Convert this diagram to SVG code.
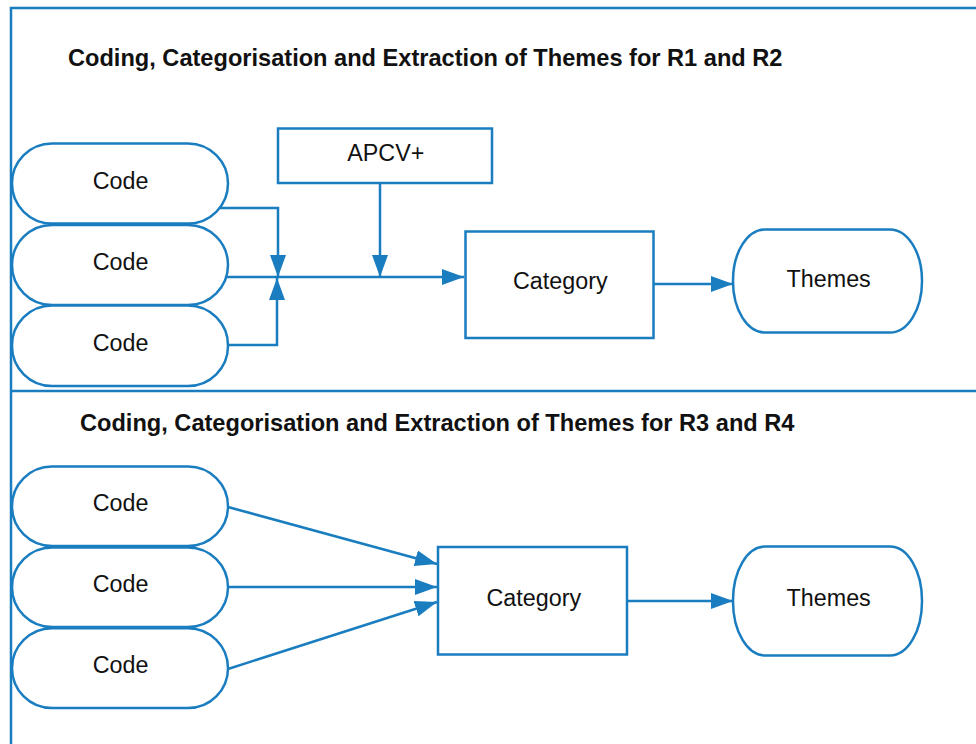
<svg xmlns="http://www.w3.org/2000/svg" width="976" height="744" viewBox="0 0 976 744">
<style>
.shape{fill:#fff;stroke:#1a7dc0;stroke-width:2.5}
.frame{fill:none;stroke:#1a7dc0;stroke-width:2.5}
.conn{fill:none;stroke:#1a7dc0;stroke-width:2.5}
.lbl{font-family:"Liberation Sans",Arial,sans-serif;font-size:23.3px;fill:#111;text-anchor:middle}
.title{font-family:"Liberation Sans",Arial,sans-serif;font-size:23.6px;font-weight:bold;fill:#111}
</style>
<defs>
<marker id="arr" markerUnits="userSpaceOnUse" markerWidth="24" markerHeight="18" refX="22" refY="8" orient="auto">
<path d="M0,0 L22,8 L0,16 z" fill="#1a7dc0"/>
</marker>
</defs>
<rect width="976" height="744" fill="#fff"/>
<g id="frame">
<path class="frame" d="M11,744 V8 H976"/>
<path class="frame" d="M11,391 H976"/>
</g>
<text class="title" x="68" y="66">Coding, Categorisation and Extraction of Themes for R1 and R2</text>
<text class="title" x="80" y="431">Coding, Categorisation and Extraction of Themes for R3 and R4</text>

<g id="connectors">
<path class="conn" d="M219,208 H278 V277" marker-end="url(#arr)"/>
<path class="conn" d="M226,277 H464" marker-end="url(#arr)"/>
<path class="conn" d="M228,345 H277 V278" marker-end="url(#arr)"/>
<path class="conn" d="M380,183 V277" marker-end="url(#arr)"/>
<path class="conn" d="M654,284 H733" marker-end="url(#arr)"/>
<path class="conn" d="M228,507 L437,564" marker-end="url(#arr)"/>
<path class="conn" d="M228,587 H437" marker-end="url(#arr)"/>
<path class="conn" d="M228,669 L437,602" marker-end="url(#arr)"/>
<path class="conn" d="M627,601 H733" marker-end="url(#arr)"/>
</g>

<g id="code1"><rect class="shape" x="12" y="143.5" width="216" height="80" rx="40" ry="40"/><text class="lbl" x="120.5" y="189">Code</text></g>
<g id="code2"><rect class="shape" x="12" y="225" width="216" height="80" rx="40" ry="40"/><text class="lbl" x="120.5" y="269.5">Code</text></g>
<g id="code3"><rect class="shape" x="12" y="305.5" width="216" height="80.5" rx="40" ry="40"/><text class="lbl" x="120.5" y="350.5">Code</text></g>
<g id="apcv"><rect class="shape" x="278" y="128.5" width="214" height="54.5"/><text class="lbl" x="385.8" y="161">APCV+</text></g>
<g id="category1"><rect class="shape" x="465.5" y="231.5" width="188" height="106.5"/><text class="lbl" x="560.3" y="289">Category</text></g>
<g id="themes1"><rect class="shape" x="733" y="229.5" width="189" height="103" rx="32" ry="51"/><text class="lbl" x="828.7" y="286.5">Themes</text></g>

<g id="code4"><rect class="shape" x="12" y="466.5" width="216" height="79.5" rx="40" ry="40"/><text class="lbl" x="120.5" y="511">Code</text></g>
<g id="code5"><rect class="shape" x="12" y="547.5" width="216" height="79.5" rx="40" ry="40"/><text class="lbl" x="120.5" y="591.7">Code</text></g>
<g id="code6"><rect class="shape" x="12" y="628.3" width="216" height="79.7" rx="40" ry="40"/><text class="lbl" x="120.5" y="673">Code</text></g>
<g id="category2"><rect class="shape" x="438" y="547" width="189" height="107.5"/><text class="lbl" x="533.8" y="606">Category</text></g>
<g id="themes2"><rect class="shape" x="733" y="546.5" width="189" height="109" rx="32" ry="54"/><text class="lbl" x="828.7" y="606">Themes</text></g>
</svg>
